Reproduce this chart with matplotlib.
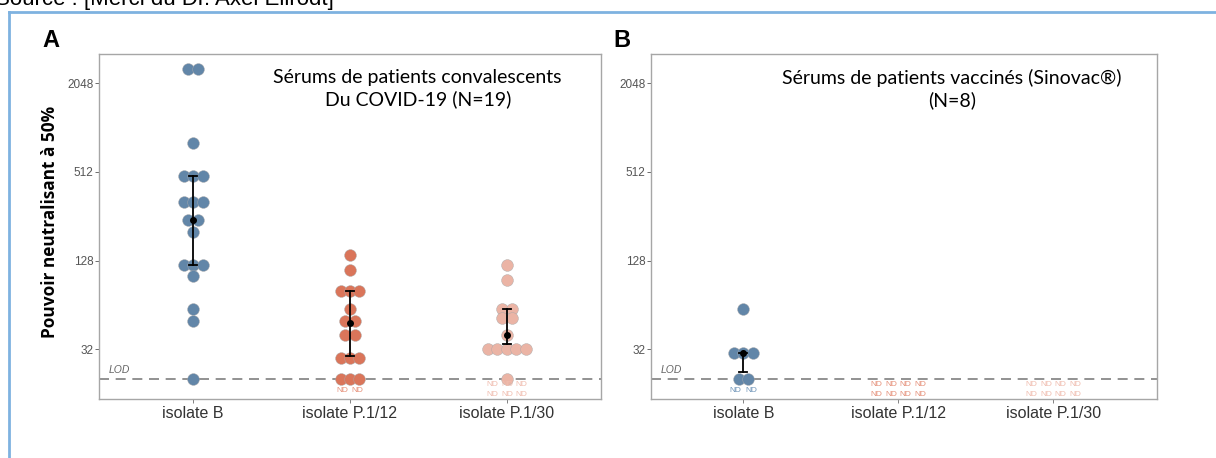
import numpy as np
import matplotlib
matplotlib.use('Agg')
import matplotlib.pyplot as plt
from matplotlib.lines import Line2D

# data (titre neutralisant, LOD = 20)
groups = ['isolate B', 'isolate P.1/12', 'isolate P.1/30']
lod = 20
yticks = [32, 128, 512, 2048]

conv_b = [2560, 2560, 800, 480, 480, 480, 320, 320, 320, 240, 240, 200,
          120, 120, 120, 100, 60, 50, 20]
conv_p12 = [140, 110, 80, 80, 80, 60, 50, 50, 40, 40, 28, 28, 28, 20, 20, 20]
conv_p30 = [120, 95, 60, 60, 52, 52, 40, 32, 32, 32, 32, 32, 20]
conv_nd = [0, 2, 6]
conv_med = [240, 48, 40]
conv_lo = [120, 29, 35]
conv_hi = [480, 80, 60]

vacc_b = [60, 30, 30, 30, 20, 20]
vacc_p12 = []
vacc_p30 = []
vacc_nd = [2, 8, 8]
vacc_med = [30, None, None]
vacc_lo = [22.5, None, None]
vacc_hi = [30, None, None]

colors = ['#6286a8', '#da755a', '#ebb4a5']
nd_colors = ['#6e94b8', '#e58f78', '#f0bcae']

title_a = 'Sérums de patients convalescents\nDu COVID-19 (N=19)'
title_b = 'Sérums de patients vaccinés (Sinovac®)\n(N=8)'


def swarm_x(values, center, dx=0.06):
    xs = []
    vals = np.array(values, dtype=float)
    for v in vals:
        same = np.where(vals == v)[0]
        n = len(same)
        k = len([j for j in same if j < len(xs)])
        xs.append(center + (k - (n - 1) / 2) * dx)
    return xs


def draw_panel(ax, series, nds, meds, los, his, title, title_x):
    ax.set_yscale('log', base=2)
    ax.set_ylim(14.7, 3238)
    for i, vals in enumerate(series):
        c = i + 1
        if vals:
            ax.scatter(swarm_x(vals, c), vals, s=72, color=colors[i],
                       edgecolor='#a8a8a8', linewidth=0.3, zorder=2)
        if meds[i] is not None:
            ax.plot([c, c], [los[i], his[i]], color='black', lw=1.3, zorder=3)
            for yv in (los[i], his[i]):
                ax.plot([c - 0.025, c + 0.025], [yv, yv], color='black',
                        lw=1.3, zorder=3)
            ax.scatter([c], [meds[i]], s=16, color='black', zorder=4)
        n = nds[i]
        if n:
            ncol = n if n <= 2 else n // 2
            nrow = int(np.ceil(n / ncol))
            if nrow == 1:
                dx = 0.098
                rows_y = [2 ** 4.08]
            else:
                dx = 0.093
                rows_y = [2 ** 4.21, 2 ** 3.99]
            for r in range(nrow):
                for k in range(ncol):
                    x = c + (k - (ncol - 1) / 2) * dx
                    ax.text(x, rows_y[r], 'ND', fontsize=6, color=nd_colors[i],
                            ha='center', va='center', family='Liberation Sans')
    ax.axhline(lod, color='#7f7f7f', lw=1.2, ls=(0, (6, 4)), zorder=1)
    ax.text(0.02, 0.075, 'LOD', transform=ax.transAxes, fontsize=7.5,
            style='italic', color='#666666', family='Liberation Sans')
    ax.set_yticks(yticks)
    ax.set_yticklabels([str(t) for t in yticks])
    ax.minorticks_off()
    ax.set_xticks([1, 2, 3])
    ax.set_xticklabels(groups)
    ax.tick_params(axis='y', labelsize=8.5, colors='#555555', length=3,
                   width=0.6, pad=1)
    ax.tick_params(axis='x', labelsize=11.5, colors='#6e6e6e', length=3,
                   width=0.6, pad=2, labelcolor='#333333')
    for lab in ax.get_xticklabels() + ax.get_yticklabels():
        lab.set_family('Liberation Sans')
    for sp in ax.spines.values():
        sp.set_color('#a6a6a6')
        sp.set_linewidth(1.0)
    ax.text(title_x, 0.957, title, transform=ax.transAxes, ha='center',
            va='top', fontsize=14, family='Lato', linespacing=1.32)


fig = plt.figure(figsize=(12.16, 4.58), dpi=100)

ax_a = fig.add_axes([0.0814, 0.1288, 0.4128, 0.7533])
ax_a.set_xlim(0.4, 3.6)
draw_panel(ax_a, [conv_b, conv_p12, conv_p30], conv_nd, conv_med, conv_lo,
           conv_hi, title_a, 0.635)

ax_b = fig.add_axes([0.5354, 0.1288, 0.4161, 0.7533])
ax_b.set_xlim(0.405, 3.669)
draw_panel(ax_b, [vacc_b, vacc_p12, vacc_p30], vacc_nd, vacc_med, vacc_lo,
           vacc_hi, title_b, 0.595)

ax_a.set_ylabel('Pouvoir neutralisant à 50%', fontsize=12.4, fontweight='bold',
                family='Open Sans')
ax_a.yaxis.set_label_coords(-0.08, 0.514)

fig.text(50.5 / 1216, 1 - 40.5 / 458, 'A', fontsize=17, fontweight='bold',
         ha='center', va='center', family='Liberation Sans')
fig.text(622 / 1216, 1 - 40.5 / 458, 'B', fontsize=17, fontweight='bold',
         ha='center', va='center', family='Liberation Sans')

# caption above the frame, cut off at the top as in the source
fig.text(-0.004, 1 - 5 / 458, 'Source : [Merci du Dr. Axel Ellrodt]',
         fontsize=16, va='baseline', ha='left', family='Liberation Sans')

# light blue frame
x0, y0 = 9 / 1216, 1 - 12 / 458
fig.add_artist(Line2D([x0, x0], [0, y0], color='#7eb2e0', lw=2,
                      transform=fig.transFigure))
fig.add_artist(Line2D([x0, 1], [y0, y0], color='#7eb2e0', lw=2,
                      transform=fig.transFigure))

fig.savefig('out.png', dpi=100)
